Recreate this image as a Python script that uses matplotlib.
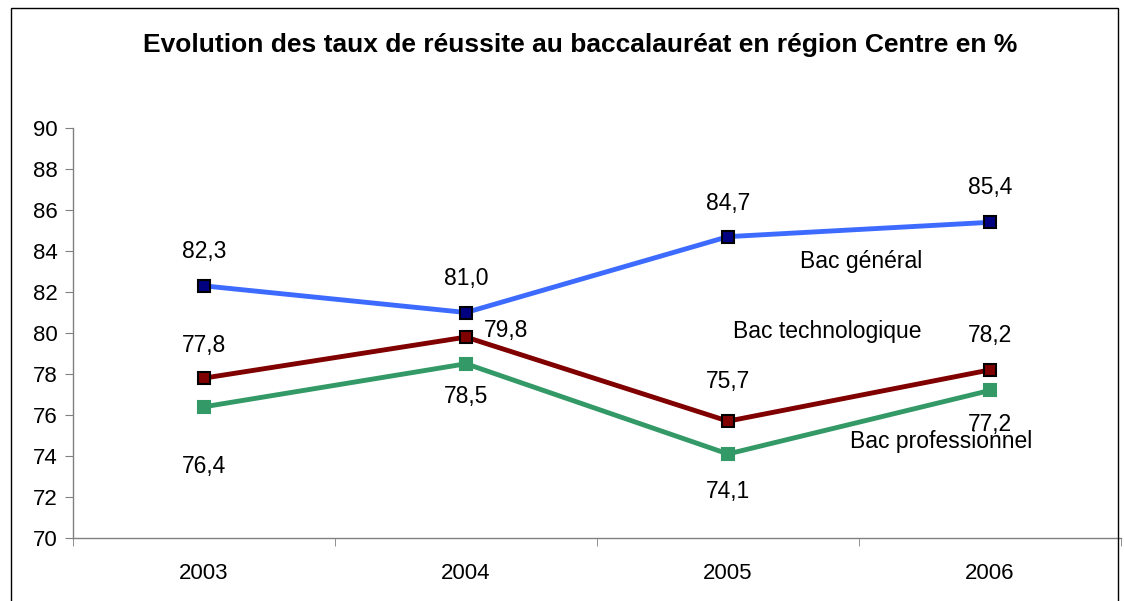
import matplotlib.pyplot as plt
from matplotlib.patches import Rectangle

years = ["2003", "2004", "2005", "2006"]
bac_general = [82.3, 81.0, 84.7, 85.4]
bac_techno = [77.8, 79.8, 75.7, 78.2]
bac_pro = [76.4, 78.5, 74.1, 77.2]
y_ticks = list(range(70, 91, 2))

# label offsets in pixels (dx, dy)
off_general = [(0, 34), (0, 34), (0, 33), (0, 35)]
off_techno = [(0, 33), (40, 7), (0, 40), (0, 34)]
off_pro = [(0, -60), (0, -33), (0, -38), (0, -34)]

plt.rcParams['font.family'] = ['Liberation Sans', 'DejaVu Sans']

fig = plt.figure(figsize=(11.24, 6.01), dpi=100)
ax = fig.add_axes([73 / 1124, 1 - 538 / 601, 1048 / 1124, 410 / 601])

x = list(range(len(years)))

ax.plot(x, bac_general, color='#3D6BFF', lw=3.5, marker='s', ms=9,
        mfc='#000080', mec='black', mew=1.5, zorder=3)
ax.plot(x, bac_techno, color='#800000', lw=3.5, marker='s', ms=9,
        mfc='#800000', mec='black', mew=1.5, zorder=3)
ax.plot(x, bac_pro, color='#339966', lw=3.5, marker='s', ms=9,
        mfc='#339966', mec='#339966', mew=1.5, zorder=2)


def fmt(v):
    return f"{v:.1f}".replace('.', ',')


for vals, offs in [(bac_general, off_general), (bac_techno, off_techno), (bac_pro, off_pro)]:
    for i, v in enumerate(vals):
        dx, dy = offs[i]
        ax.annotate(fmt(v), (i, v), xytext=(dx * 0.72, dy * 0.72),
                    textcoords='offset points', ha='center', va='center',
                    fontsize=16.5)

ax.text(2.275, 83.5, "Bac général", ha='left', va='center', fontsize=16.5)
ax.text(2.02, 80.05, "Bac technologique", ha='left', va='center', fontsize=16.5)
ax.text(2.466, 74.73, "Bac professionnel", ha='left', va='center', fontsize=16.5)

ax.set_xlim(-0.5, 3.5)
ax.set_ylim(70, 90)
ax.set_yticks(y_ticks)
ax.set_xticks(x)
ax.set_xticklabels(years)
ax.set_xticks([-0.5, 0.5, 1.5, 2.5, 3.5], minor=True)
ax.tick_params(axis='x', which='major', length=0, pad=18, labelsize=16)
ax.tick_params(axis='x', which='minor', length=6, color='#808080', direction='out')
ax.tick_params(axis='y', length=6, color='#808080', direction='out', labelsize=16, pad=5)

for s in ['top', 'right']:
    ax.spines[s].set_visible(False)
for s in ['left', 'bottom']:
    ax.spines[s].set_color('#808080')
    ax.spines[s].set_linewidth(1)

fig.text(580 / 1124, 1 - 45 / 601,
         "Evolution des taux de réussite au baccalauréat en région Centre en %",
         ha='center', va='center', fontsize=19, fontweight='bold')

fig.patches.append(Rectangle((11 / 1124, -0.01), 1107 / 1124, 1 - 8 / 601 + 0.01,
                             transform=fig.transFigure, fill=False,
                             edgecolor='black', lw=1))

fig.savefig("out.png", dpi=100)
